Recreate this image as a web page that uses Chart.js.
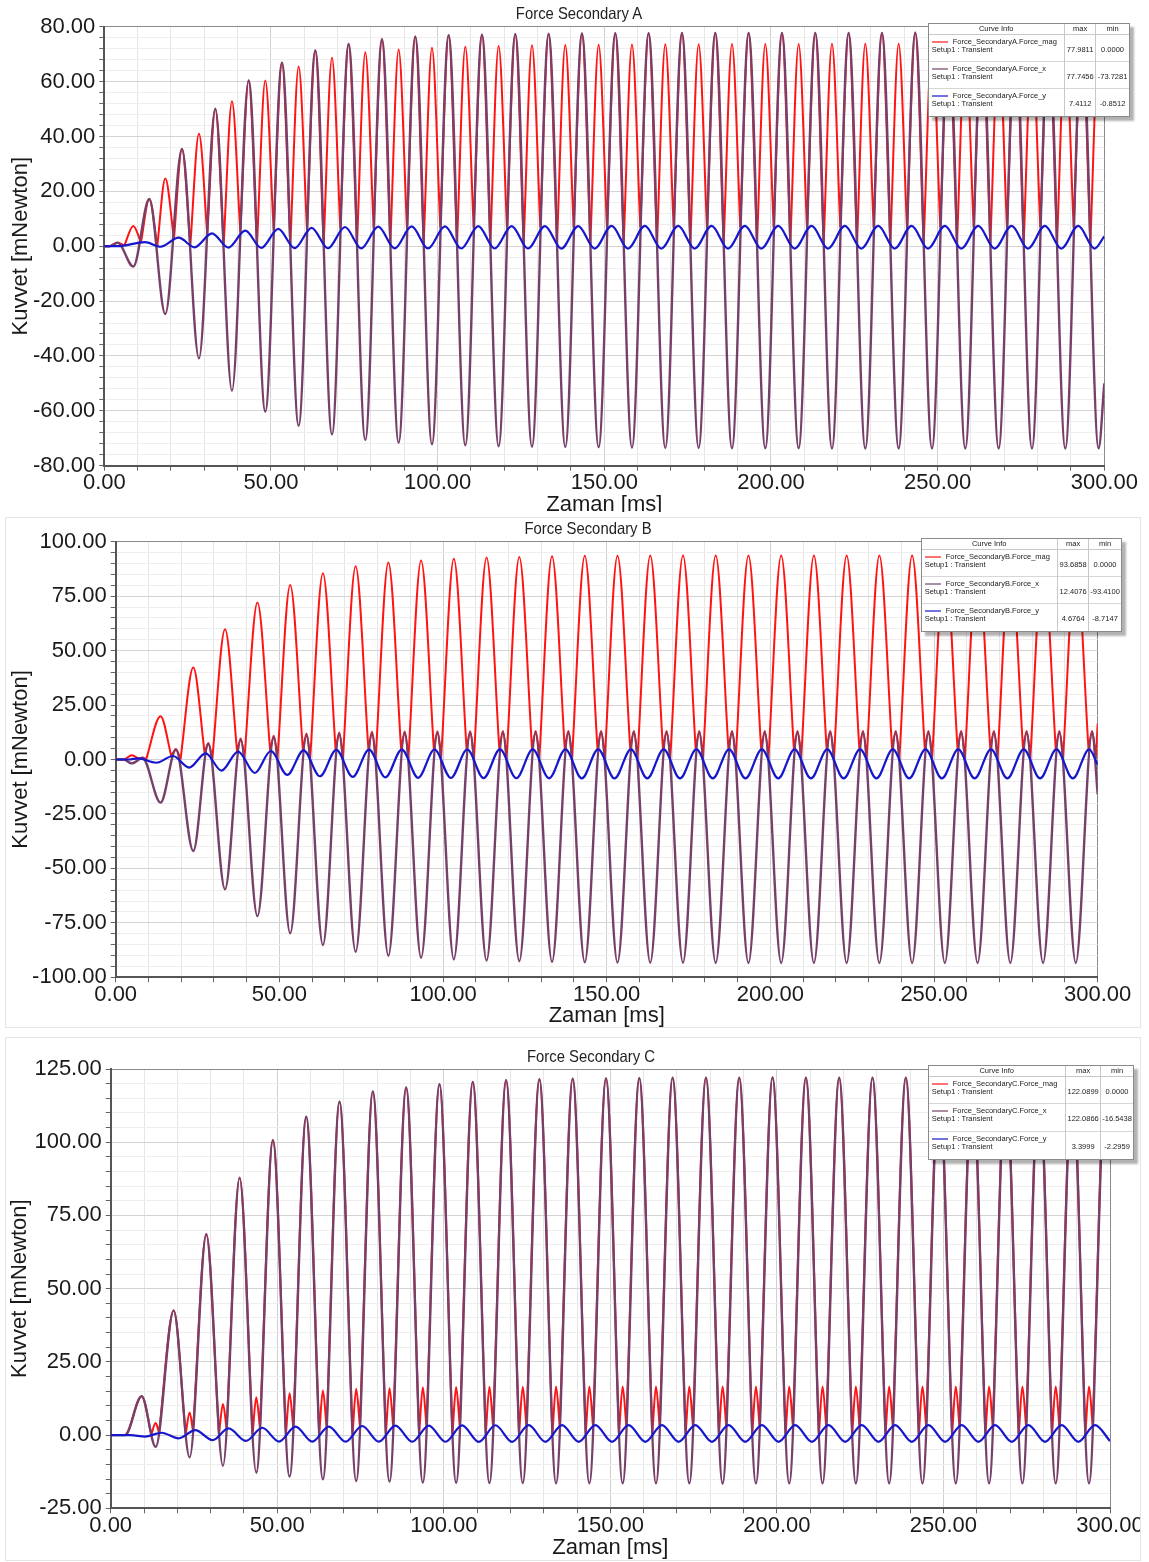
<!DOCTYPE html>
<html lang="tr">
<head>
<meta charset="utf-8">
<title>Force Secondary A / B / C</title>
<script src="https://cdn.jsdelivr.net/npm/chart.js@4.4.0/dist/chart.umd.min.js"></script>
<style>
  html, body { margin: 0; padding: 0; background: #fff; }
  body { position: relative; width: 1149px; height: 1562px; overflow: hidden;
         font-family: "Liberation Sans", Arial, sans-serif; }
  canvas { position: absolute; }
  .frame { position: absolute; box-sizing: border-box; border: 1px solid #e4e4e4; }
  .baslik { position: absolute; transform: translate(-50%, -50%) scaleX(0.9); white-space: nowrap;
            font-family: "Liberation Sans", Arial, sans-serif;
            font-size: 16.5px; color: #222; line-height: 1; }
  .info { position: absolute; background: #fff; border: 1px solid #8a8a8a; box-sizing: border-box;
          box-shadow: 4px 4px 2px rgba(0, 0, 0, 0.3); font-size: 7.5px; color: #222; }
  .info table { border-collapse: collapse; width: 100%; height: 100%; table-layout: fixed; }
  .info th { font-weight: normal; height: 10px; padding: 0; border-bottom: 1px solid #c8c8c8; }
  .info td { padding: 0; vertical-align: top; text-align: center; border-top: 1px solid #d6d6d6; }
  .info th + th, .info td + td { border-left: 1px solid #c8c8c8; }
  .info td.name { text-align: left; padding: 3px 0 0 3px; line-height: 8px; white-space: nowrap; }
  .info td.val { padding-top: 11px; line-height: 8px; }
  .sw { display: inline-block; width: 16px; height: 2px; vertical-align: middle; margin-right: 5px; opacity: .6; }
</style>
</head>
<body>
<div class="frame" style="left:5px; top:517px; width:1136px; height:511px"></div>
<div class="frame" style="left:5px; top:1037px; width:1136px; height:524px"></div>
<canvas id="grafA"></canvas>
<canvas id="grafB"></canvas>
<canvas id="grafC"></canvas>
<div class="baslik" style="left:579px; top:13px">Force Secondary A</div>
<div class="baslik" style="left:588px; top:528px">Force Secondary B</div>
<div class="baslik" style="left:591px; top:1056px">Force Secondary C</div>

<script>
// ===== Force Secondary A =====
// times [ms] of the Force_x extrema (Force_mag uses the same samples)
const tA = [0, 1.5, 4.0, 8.7, 13.5, 18.3, 23.3, 28.4, 33.3, 38.3,
  43.3, 48.3, 53.3, 58.3, 63.3, 68.3, 73.3, 78.3, 83.3, 88.3,
  93.3, 98.3, 103.3, 108.3, 113.3, 118.3, 123.3, 128.3, 133.3, 138.3,
  143.3, 148.3, 153.3, 158.3, 163.3, 168.3, 173.3, 178.3, 183.3, 188.3,
  193.3, 198.3, 203.3, 208.3, 213.3, 218.3, 223.3, 228.3, 233.3, 238.3,
  243.3, 248.3, 253.3, 258.3, 263.3, 268.3, 273.3, 278.3, 283.3, 288.3,
  293.3, 298.3, 300];
const forceXA = [0, 0, 1.3, -7.4, 17.2, -24.7, 35.4, -40.9, 50.1, -52.7,
  60.4, -60.3, 66.9, -65.4, 71.3, -68.6, 73.7, -70.6, 75.4, -71.6,
  76.4, -72.2, 76.9, -72.6, 77.1, -72.9, 77.3, -73.1, 77.4, -73.2,
  77.5, -73.3, 77.6, -73.4, 77.6, -73.5, 77.7, -73.5, 77.7, -73.6,
  77.7, -73.6, 77.7, -73.6, 77.7, -73.7, 77.7, -73.7, 77.7, -73.7,
  77.75, -73.7, 77.7, -73.7, 77.7, -73.7, 77.7, -73.7, 77.7, -73.7,
  77.7, -73.7, -50];
const forceMagA = [0, 0, 1.3, 7.4, 17.2, 24.7, 35.4, 41.0, 50.1, 52.8,
  60.4, 60.4, 66.9, 65.5, 71.3, 68.7, 73.7, 70.7, 75.4, 71.7,
  76.4, 72.3, 76.9, 72.7, 77.1, 73.0, 77.3, 73.2, 77.4, 73.3,
  77.5, 73.4, 77.6, 73.5, 77.6, 73.6, 77.7, 73.6, 77.7, 73.7,
  77.7, 73.7, 77.7, 73.7, 77.7, 73.8, 77.7, 73.8, 77.7, 73.8,
  77.98, 73.8, 77.7, 73.8, 77.7, 73.8, 77.7, 73.8, 77.7, 73.8,
  77.7, 73.8, 50.1];
// Force_mag folds where Force_x changes sign
const foldTA = [6.0, 11.0, 15.9, 20.9, 25.8, 30.9, 35.8, 40.8, 45.8, 50.8,
  55.8, 60.8, 65.8, 70.8, 75.8, 80.8, 85.8, 90.8, 95.8, 100.8,
  105.8, 110.8, 115.8, 120.8, 125.8, 130.8, 135.8, 140.8, 145.8, 150.8,
  155.8, 160.8, 165.8, 170.8, 175.8, 180.8, 185.8, 190.8, 195.8, 200.8,
  205.8, 210.8, 215.8, 220.8, 225.8, 230.8, 235.8, 240.8, 245.8, 250.8,
  255.8, 260.8, 265.8, 270.8, 275.8, 280.8, 285.8, 290.8, 295.8];
const foldVA = [0.2, 1.4, 0.1, 2.7, 0.3, 4.3, 0.4, 5.3, 0.4, 6.0,
  0.5, 6.3, 0.5, 6.6, 0.6, 6.7, 0.6, 6.8, 0.6, 6.8,
  0.6, 6.9, 0.6, 6.9, 0.6, 6.9, 0.6, 6.9, 0.6, 6.9,
  0.6, 6.9, 0.6, 6.9, 0.6, 6.9, 0.6, 6.9, 0.6, 6.9,
  0.6, 6.9, 0.6, 6.9, 0.6, 6.9, 0.6, 6.9, 0.6, 6.9,
  0.6, 6.9, 0.6, 6.9, 0.6, 6.9, 0.6, 6.9, 0.6];
const tYA = [0, 4.0, 12.2, 16.9, 22.3, 27.1, 32.3, 37.2, 42.3, 47.1,
  52.2, 57.1, 62.2, 67.1, 72.2, 77.1, 82.2, 87.1, 92.2, 97.1,
  102.2, 107.1, 112.2, 117.1, 122.2, 127.1, 132.2, 137.1, 142.2, 147.1,
  152.2, 157.1, 162.2, 167.1, 172.2, 177.1, 182.2, 187.1, 192.2, 197.1,
  202.2, 207.1, 212.2, 217.1, 222.2, 227.1, 232.2, 237.1, 242.2, 247.1,
  252.2, 257.1, 262.2, 267.1, 272.2, 277.1, 282.2, 287.1, 292.2, 297.1,
  300];
const forceYA = [0, 0, 1.5, -0.2, 3.1, -0.4, 4.7, -0.5, 5.7, -0.6,
  6.3, -0.7, 6.7, -0.75, 7.0, -0.8, 7.1, -0.8, 7.2, -0.82,
  7.25, -0.83, 7.3, -0.84, 7.3, -0.84, 7.35, -0.85, 7.35, -0.85,
  7.4, -0.85, 7.4, -0.85, 7.4, -0.85, 7.4, -0.85, 7.41, -0.85,
  7.4, -0.85, 7.4, -0.85, 7.4, -0.85, 7.4, -0.85, 7.4, -0.85,
  7.4, -0.85, 7.4, -0.85, 7.4, -0.85, 7.4, -0.85, 7.4, -0.85,
  3.6];

// ===== Force Secondary B =====
const tB = [0, 2.5, 4.9, 8.2, 13.7, 18.4, 23.7, 28.3, 33.4, 38.2,
  43.3, 48.3, 53.3, 58.3, 63.3, 68.3, 73.3, 78.3, 83.3, 88.3,
  93.3, 98.3, 103.3, 108.3, 113.3, 118.3, 123.3, 128.3, 133.3, 138.3,
  143.3, 148.3, 153.3, 158.3, 163.3, 168.3, 173.3, 178.3, 183.3, 188.3,
  193.3, 198.3, 203.3, 208.3, 213.3, 218.3, 223.3, 228.3, 233.3, 238.3,
  243.3, 248.3, 253.3, 258.3, 263.3, 268.3, 273.3, 278.3, 283.3, 288.3,
  293.3, 298.3, 300];
const forceXB = [0, 0, -1.8, 0.7, -19.8, 4.4, -42.0, 7.1, -59.6, 9.0,
  -71.9, 10.2, -79.8, 11.2, -85.2, 11.7, -88.3, 12.0, -90.1, 12.2,
  -91.0, 12.3, -91.8, 12.3, -92.3, 12.4, -92.6, 12.4, -92.9, 12.4,
  -93.1, 12.4, -93.2, 12.4, -93.3, 12.4, -93.3, 12.4, -93.4, 12.4,
  -93.4, 12.4, -93.4, 12.4, -93.4, 12.4, -93.4, 12.4, -93.4, 12.4,
  -93.41, 12.4, -93.4, 12.4, -93.4, 12.4, -93.4, 12.4, -93.4, 12.4,
  -93.4, 12.4, -16];
const forceMagB = [0, 0, 2.0, 0.9, 19.9, 4.8, 42.2, 7.6, 59.8, 9.6,
  72.1, 10.9, 80.1, 11.9, 85.5, 12.4, 88.7, 12.7, 90.5, 12.9,
  91.4, 13.0, 92.2, 13.0, 92.7, 13.1, 93.0, 13.1, 93.3, 13.1,
  93.5, 13.1, 93.6, 13.1, 93.65, 13.1, 93.65, 13.1, 93.69, 13.1,
  93.65, 13.1, 93.65, 13.1, 93.65, 13.1, 93.65, 13.1, 93.65, 13.1,
  93.65, 13.1, 93.65, 13.1, 93.65, 13.1, 93.65, 13.1, 93.65, 13.1,
  93.65, 13.1, 16.5];
const foldTB = [7.0, 9.3, 17.0, 19.8, 27.2, 29.5, 37.1, 39.3, 47.2, 49.4,
  57.2, 59.4, 67.2, 69.4, 77.2, 79.4, 87.2, 89.4, 97.2, 99.4,
  107.2, 109.4, 117.2, 119.4, 127.2, 129.4, 137.2, 139.4, 147.2, 149.4,
  157.2, 159.4, 167.2, 169.4, 177.2, 179.4, 187.2, 189.4, 197.2, 199.4,
  207.2, 209.4, 217.2, 219.4, 227.2, 229.4, 237.2, 239.4, 247.2, 249.4,
  257.2, 259.4, 267.2, 269.4, 277.2, 279.4, 287.2, 289.4, 297.2, 299.4];
const foldVB = [0.4, 0.1, 1.5, 0.1, 2.7, 0.2, 3.5, 0.2, 3.9, 0.2,
  4.2, 0.3, 4.4, 0.3, 4.5, 0.3, 4.5, 0.3, 4.6, 0.3,
  4.6, 0.3, 4.6, 0.3, 4.6, 0.3, 4.6, 0.3, 4.6, 0.3,
  4.6, 0.3, 4.6, 0.3, 4.6, 0.3, 4.6, 0.3, 4.6, 0.3,
  4.6, 0.3, 4.6, 0.3, 4.6, 0.3, 4.6, 0.3, 4.6, 0.3,
  4.6, 0.3, 4.6, 0.3, 4.6, 0.3, 4.6, 0.3, 4.6, 0.3];
const tYB = [0, 4.0, 6.9, 12.4, 17.5, 22.4, 27.5, 32.3, 37.4, 42.5, 47.4,
  52.4, 57.4, 62.4, 67.4, 72.4, 77.4, 82.4, 87.4, 92.4, 97.4,
  102.4, 107.4, 112.4, 117.4, 122.4, 127.4, 132.4, 137.4, 142.4, 147.4,
  152.4, 157.4, 162.4, 167.4, 172.4, 177.4, 182.4, 187.4, 192.4, 197.4,
  202.4, 207.4, 212.4, 217.4, 222.4, 227.4, 232.4, 237.4, 242.4, 247.4,
  252.4, 257.4, 262.4, 267.4, 272.4, 277.4, 282.4, 287.4, 292.4, 297.4,
  300];
const forceYB = [0, 0, 0.5, -1.5, 1.6, -3.7, 2.8, -5.1, 3.6, -6.2, 3.9,
  -7.1, 4.2, -7.7, 4.4, -8.0, 4.5, -8.2, 4.55, -8.4, 4.6,
  -8.5, 4.6, -8.55, 4.65, -8.6, 4.65, -8.65, 4.67, -8.7, 4.68,
  -8.71, 4.67, -8.7, 4.67, -8.7, 4.67, -8.7, 4.67, -8.7, 4.67,
  -8.7, 4.67, -8.7, 4.67, -8.7, 4.67, -8.7, 4.67, -8.7, 4.67,
  -8.7, 4.67, -8.7, 4.67, -8.7, 4.67, -8.7, 4.67, -8.7, 4.67,
  -2.4];

// ===== Force Secondary C =====
const tC = [0, 4.3, 9.3, 13.5, 18.9, 23.7, 28.7, 33.7, 38.7, 43.7,
  48.7, 53.7, 58.7, 63.7, 68.7, 73.7, 78.7, 83.7, 88.7, 93.7,
  98.7, 103.7, 108.7, 113.7, 118.7, 123.7, 128.7, 133.7, 138.7, 143.7,
  148.7, 153.7, 158.7, 163.7, 168.7, 173.7, 178.7, 183.7, 188.7, 193.7,
  198.7, 203.7, 208.7, 213.7, 218.7, 223.7, 228.7, 233.7, 238.7, 243.7,
  248.7, 253.7, 258.7, 263.7, 268.7, 273.7, 278.7, 283.7, 288.7, 293.7,
  298.7, 300];
const forceXC = [0, 0, 13.3, -4.0, 42.5, -7.6, 68.6, -10.5, 87.9, -12.8,
  100.7, -14.2, 108.7, -15.1, 113.8, -15.7, 117.3, -15.9, 118.7, -16.2,
  119.8, -16.3, 120.6, -16.4, 121.2, -16.4, 121.5, -16.5, 121.7, -16.5,
  121.8, -16.5, 121.9, -16.5, 122.0, -16.5, 122.0, -16.54, 122.0, -16.5,
  122.09, -16.5, 122.0, -16.5, 122.0, -16.5, 122.0, -16.5, 122.0, -16.5,
  122.0, -16.5, 122.0, -16.5, 122.0, -16.5, 122.0, -16.5, 122.0, -16.5,
  122.0, 99];
const forceMagC = [0, 0, 13.3, 4.1, 42.5, 7.7, 68.6, 10.6, 87.9, 12.9,
  100.7, 14.3, 108.7, 15.2, 113.8, 15.8, 117.3, 16.0, 118.7, 16.3,
  119.8, 16.4, 120.6, 16.5, 121.2, 16.5, 121.5, 16.6, 121.7, 16.6,
  121.8, 16.6, 121.9, 16.6, 122.0, 16.6, 122.0, 16.6, 122.0, 16.6,
  122.09, 16.6, 122.0, 16.6, 122.0, 16.6, 122.0, 16.6, 122.0, 16.6,
  122.0, 16.6, 122.0, 16.6, 122.0, 16.6, 122.0, 16.6, 122.0, 16.6,
  122.0, 99];
const foldTC = [12.2, 14.5, 22.5, 24.7, 32.5, 34.8, 42.6, 44.8, 52.6, 54.8,
  62.6, 64.8, 72.6, 74.8, 82.6, 84.8, 92.6, 94.8, 102.6, 104.8,
  112.6, 114.8, 122.6, 124.8, 132.6, 134.8, 142.6, 144.8, 152.6, 154.8,
  162.6, 164.8, 172.6, 174.8, 182.6, 184.8, 192.6, 194.8, 202.6, 204.8,
  212.6, 214.8, 222.6, 224.8, 232.6, 234.8, 242.6, 244.8, 252.6, 254.8,
  262.6, 264.8, 272.6, 274.8, 282.6, 284.8, 292.6, 294.8];
const foldVC = [0.3, 0.8, 0.3, 1.5, 0.3, 2.2, 0.3, 2.5, 0.2, 2.8,
  0.2, 2.9, 0.2, 3.0, 0.2, 3.0, 0.2, 3.0, 0.2, 3.0,
  0.2, 3.0, 0.2, 3.0, 0.2, 3.0, 0.2, 3.0, 0.2, 3.0,
  0.2, 3.0, 0.2, 3.0, 0.2, 3.0, 0.2, 3.0, 0.2, 3.0,
  0.2, 3.0, 0.2, 3.0, 0.2, 3.0, 0.2, 3.0, 0.2, 3.0,
  0.2, 3.0, 0.2, 3.0, 0.2, 3.0, 0.2, 3.0];
const tYC = [0, 6.0, 10.3, 15.3, 20.4, 25.4, 30.6, 35.4, 40.6, 45.5,
  50.5, 55.5, 60.5, 65.5, 70.5, 75.5, 80.5, 85.5, 90.5, 95.5,
  100.5, 105.5, 110.5, 115.5, 120.5, 125.5, 130.5, 135.5, 140.5, 145.5,
  150.5, 155.5, 160.5, 165.5, 170.5, 175.5, 180.5, 185.5, 190.5, 195.5,
  200.5, 205.5, 210.5, 215.5, 220.5, 225.5, 230.5, 235.5, 240.5, 245.5,
  250.5, 255.5, 260.5, 265.5, 270.5, 275.5, 280.5, 285.5, 290.5, 295.5,
  300];
const forceYC = [0, 0, -0.5, 0.8, -1.1, 1.7, -1.7, 2.3, -2.0, 2.5,
  -2.2, 2.9, -2.2, 2.9, -2.25, 3.1, -2.25, 3.2, -2.28, 3.25,
  -2.28, 3.3, -2.29, 3.35, -2.29, 3.38, -2.3, 3.4, -2.3, 3.4,
  -2.3, 3.4, -2.3, 3.4, -2.3, 3.4, -2.3, 3.4, -2.3, 3.4,
  -2.3, 3.4, -2.3, 3.4, -2.3, 3.4, -2.3, 3.4, -2.3, 3.4,
  -2.3, 3.4, -2.3, 3.4, -2.3, 3.4, -2.3, 3.4, -2.3, 3.4,
  -2.0];

// Curve Info tables
const curveNames = ['Force_mag', 'Force_x', 'Force_y'];
const maxA = ['77.9811', '77.7456', '7.4112'], minA = ['0.0000', '-73.7281', '-0.8512'];
const maxB = ['93.6858', '12.4076', '4.6764'], minB = ['0.0000', '-93.4100', '-8.7147'];
const maxC = ['122.0899', '122.0866', '3.3999'], minC = ['0.0000', '-16.5438', '-2.2959'];

const RED = '#ff1414';
const PURPLE = '#77406a';
const BLUE = '#1616cc';
const FONT = '"Liberation Sans", Arial, sans-serif';

function toPoints(t, v) {
  return t.map((x, i) => ({ x: x, y: v[i] }));
}

// Force_mag: the line is broken at each fold so the corner stays sharp
function foldedPoints(t, v, foldT, foldV) {
  const all = t.map((x, i) => ({ x: x, y: v[i], fold: false }))
    .concat(foldT.map((x, i) => ({ x: x, y: foldV[i], fold: true })))
    .sort((a, b) => a.x - b.x);
  const out = [];
  all.forEach(p => {
    out.push({ x: p.x, y: p.y });
    if (p.fold) out.push({ x: p.x, y: null }, { x: p.x, y: p.y });
  });
  return out;
}

const onStep = (v, step) => Math.abs(v / step - Math.round(v / step)) < 1e-6;

function drawPanel(c) {
  const cv = document.getElementById(c.id);
  cv.width = c.box.w;
  cv.height = c.box.h;
  cv.style.left = c.box.x + 'px';
  cv.style.top = c.box.y + 'px';
  const p = c.plot;

  new Chart(cv, {
    type: 'line',
    data: {
      datasets: [
        { label: 'Force_y', data: toPoints(c.yT, c.yV), borderColor: BLUE, borderWidth: 2.2 },
        { label: 'Force_x', data: toPoints(c.xT, c.xV), borderColor: PURPLE, borderWidth: 2.4 },
        { label: 'Force_mag', data: foldedPoints(c.xT, c.magV, c.foldT, c.foldV), borderColor: RED, borderWidth: 2 }
      ]
    },
    options: {
      responsive: false,
      animation: false,
      devicePixelRatio: 1,
      events: [],
      layout: { padding: { left: 0, top: p.top - c.box.y, right: c.box.x + c.box.w - p.right, bottom: 0 } },
      elements: {
        point: { radius: 0 },
        line: { cubicInterpolationMode: 'monotone', fill: false }
      },
      plugins: { legend: { display: false }, tooltip: { enabled: false } },
      scales: {
        x: {
          type: 'linear', min: 0, max: 300,
          afterFit: s => { s.height = c.box.y + c.box.h - p.bottom; s.paddingLeft = 0; s.paddingRight = 0; },
          ticks: {
            stepSize: 10, autoSkip: false, maxRotation: 0, padding: -1,
            color: '#1a1a1a', font: { family: FONT, size: 22 },
            callback: v => onStep(v, 50) ? v.toFixed(2) : ''
          },
          grid: {
            color: ctx => ctx.tick && ctx.tick.value === 300 ? '#8a8a8a'
              : ctx.tick && onStep(ctx.tick.value, 50) ? '#d0d0d0' : '#e6e6e6',
            tickLength: 5, tickColor: '#666'
          },
          border: { color: '#555', width: 2 },
          title: {
            display: true, text: 'Zaman [ms]', color: '#1a1a1a',
            font: { family: FONT, size: 22, lineHeight: 1.2 },
            padding: { top: 0, bottom: c.box.y + c.box.h - 13.2 - c.xTitleY }
          }
        },
        y: {
          min: c.yMin, max: c.yMax,
          afterFit: s => { s.width = p.left - c.box.x; s.paddingTop = 0; s.paddingBottom = 0; },
          ticks: {
            stepSize: c.yMinor, autoSkip: false, padding: 4,
            color: '#1a1a1a', font: { family: FONT, size: 22 },
            callback: v => onStep(v, c.yMajor) ? v.toFixed(2) : ''
          },
          grid: {
            color: ctx => ctx.tick && ctx.tick.value === c.yMax ? '#8a8a8a'
              : ctx.tick && onStep(ctx.tick.value, c.yMajor) ? '#d4d4d4' : '#eeeeee',
            tickLength: 5, tickColor: '#666'
          },
          border: { color: '#555', width: 2 },
          title: {
            display: true, text: 'Kuvvet [mNewton]', color: '#1a1a1a',
            font: { family: FONT, size: 22, lineHeight: 1.2 },
            padding: { top: c.yTitleX - c.box.x - 13.2, bottom: 0 }
          }
        }
      }
    }
  });
}

function curveInfo(c) {
  const d = document.createElement('div');
  d.className = 'info';
  Object.assign(d.style, { left: c.x + 'px', top: c.y + 'px', width: c.w + 'px', height: c.h + 'px' });
  const colors = [RED, PURPLE, BLUE];
  let html = '<table><colgroup><col style="width:' + c.cols[0] + 'px"><col style="width:' + c.cols[1] +
    'px"><col></colgroup><tr><th>Curve Info</th><th>max</th><th>min</th></tr>';
  curveNames.forEach((n, i) => {
    html += '<tr><td class="name"><span class="sw" style="background:' + colors[i] + '"></span>Force_Secondary' +
      c.tag + '.' + n + '<br>Setup1 : Transient</td><td class="val">' + c.max[i] + '</td><td class="val">' +
      c.min[i] + '</td></tr>';
  });
  d.innerHTML = html + '</table>';
  document.body.appendChild(d);
}

drawPanel({
  id: 'grafA', box: { x: 0, y: 0, w: 1149, h: 512 },
  plot: { left: 104.3, top: 26.7, right: 1104.3, bottom: 465.7 },
  yMin: -80, yMax: 80, yMajor: 20, yMinor: 4, xTitleY: 505, yTitleX: 21,
  xT: tA, xV: forceXA, magV: forceMagA, foldT: foldTA, foldV: foldVA, yT: tYA, yV: forceYA
});
drawPanel({
  id: 'grafB', box: { x: 6, y: 518, w: 1134, h: 509 },
  plot: { left: 115.7, top: 541.7, right: 1097.7, bottom: 977.3 },
  yMin: -100, yMax: 100, yMajor: 25, yMinor: 5, xTitleY: 1016, yTitleX: 21,
  xT: tB, xV: forceXB, magV: forceMagB, foldT: foldTB, foldV: foldVB, yT: tYB, yV: forceYB
});
drawPanel({
  id: 'grafC', box: { x: 6, y: 1038, w: 1134, h: 522 },
  plot: { left: 110.7, top: 1069, right: 1110, bottom: 1508.3 },
  yMin: -25, yMax: 125, yMajor: 25, yMinor: 5, xTitleY: 1548, yTitleX: 20,
  xT: tC, xV: forceXC, magV: forceMagC, foldT: foldTC, foldV: foldVC, yT: tYC, yV: forceYC
});

curveInfo({ tag: 'A', x: 927.7, y: 22.7, w: 202, h: 94, cols: [135.6, 31.7], max: maxA, min: minA });
curveInfo({ tag: 'B', x: 920.7, y: 537.7, w: 201, h: 94, cols: [135.6, 31.7], max: maxB, min: minB });
curveInfo({ tag: 'C', x: 927.7, y: 1064.7, w: 206, h: 95, cols: [136.6, 35.7], max: maxC, min: minC });
</script>
</body>
</html>
